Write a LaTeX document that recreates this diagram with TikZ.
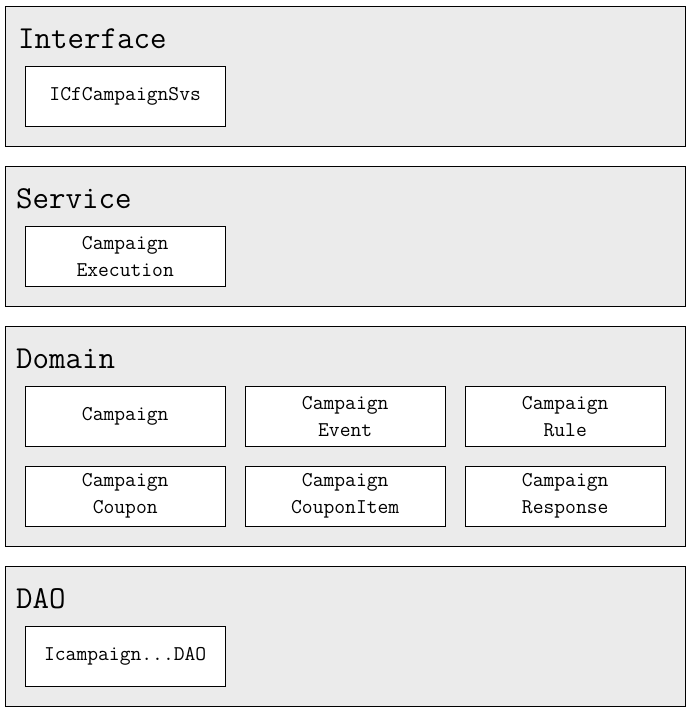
\documentclass[tikz,border=0pt]{standalone}
\usepackage{fontspec}
\usetikzlibrary{positioning}
\definecolor{layergray}{HTML}{EBEBEB}

\begin{document}
\begin{tikzpicture}[
        x=1pt, y=1pt,
        layer/.style={rectangle, draw, fill=layergray, minimum width=680pt, anchor=north west, inner sep=0pt},
        title/.style={anchor=base west, font=\ttfamily\fontsize{32}{34}\selectfont, inner sep=0pt},
        comp/.style={rectangle, draw, fill=white, minimum width=200pt, minimum height=60pt, anchor=north west,
            align=center, inner sep=0pt, font=\ttfamily\fontsize{21}{27}\selectfont}
    ]
        \useasboundingbox (0,0) rectangle (691,-713);

        % Interface layer
        \node[layer, minimum height=140pt] (iface) at (5,-6) {};
        \node[title] (ifacet) at (18,-48) {Interface};
        \node[comp] (svs) at (25,-66) {ICfCampaignSvs};

        % Service layer
        \node[layer, minimum height=140pt] (serv) at (5,-166) {};
        \node[title] (servt) at (16,-208) {Service};
        \node[comp] (exec) at (25,-226) {Campaign\\Execution};

        % Domain layer
        \node[layer, minimum height=220pt] (dom) at (5,-326) {};
        \node[title] (domt) at (16,-368) {Domain};
        \node[comp] (camp) at (25,-386) {Campaign};
        \node[comp] (event) at (245,-386) {Campaign\\Event};
        \node[comp] (rule) at (465,-386) {Campaign\\Rule};
        \node[comp] (coupon) at (25,-466) {Campaign\\Coupon};
        \node[comp] (item) at (245,-466) {Campaign\\CouponItem};
        \node[comp] (resp) at (465,-466) {Campaign\\Response};

        % DAO layer
        \node[layer, minimum height=140pt] (dao) at (5,-566) {};
        \node[title] (daot) at (16,-608) {DAO};
        \node[comp] (idao) at (25,-626) {Icampaign...DAO};
    \end{tikzpicture}
\end{document}
